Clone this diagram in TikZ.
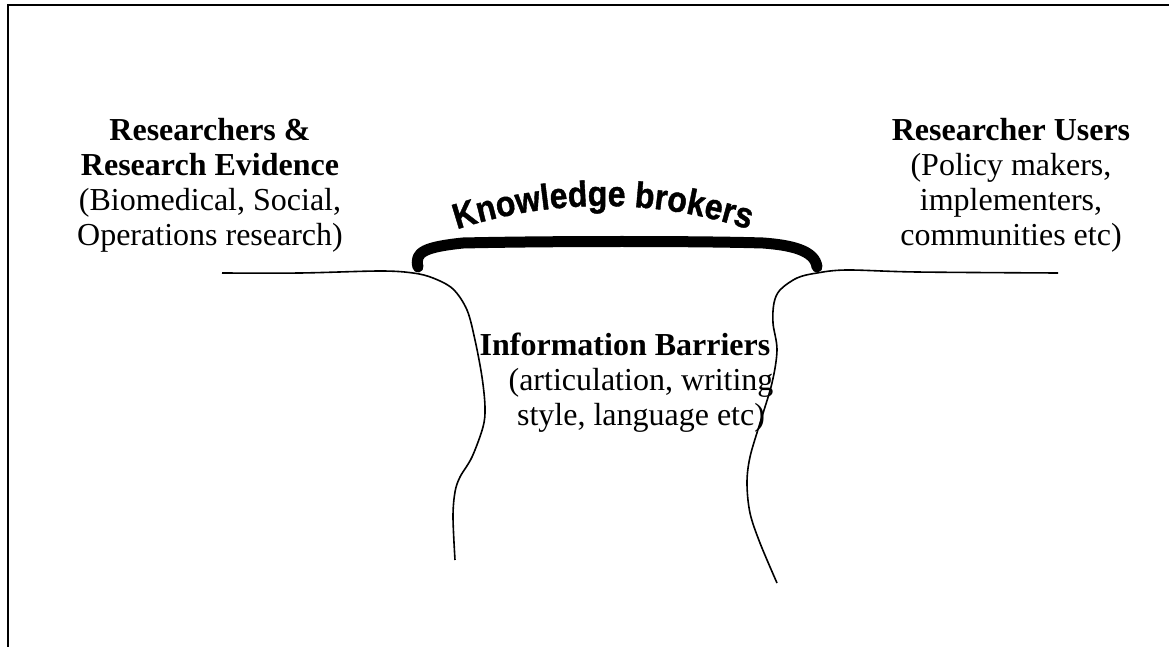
\documentclass[tikz,border=0pt]{standalone}
\usepackage{fontspec}
\setmainfont{Liberation Serif}
\newfontfamily\kbfont{Liberation Sans}[FakeBold=1.2]
\usetikzlibrary{decorations.text}
\tikzset{
  frameline/.style={line width=1pt},
  ground/.style={line width=0.8pt},
  bridge/.style={line width=5.5pt, line cap=round, line join=round},
  lbl/.style={anchor=base, inner sep=0pt, font=\fontsize{16}{17.5}\selectfont},
  blbl/.style={lbl, font=\fontsize{16}{17.5}\selectfont\bfseries}
}
\begin{document}
\begin{tikzpicture}[x=0.5pt, y=0.5pt]
\useasboundingbox (0,0) rectangle (1169,-647);
% frame
\draw[frameline] (1169,-5) -- (8,-5) -- (8,-647);
% left text
\node[blbl] (l1) at (210,-141) {Researchers \&};
\node[blbl] (l2) at (210,-176) {Research Evidence};
\node[lbl]  (l3) at (210,-211) {(Biomedical, Social,};
\node[lbl]  (l4) at (210,-246) {Operations research)};
% right text
\node[blbl] (r1) at (1011,-141) {Researcher Users};
\node[lbl]  (r2) at (1011,-176) {(Policy makers,};
\node[lbl]  (r3) at (1011,-211) {implementers,};
\node[lbl]  (r4) at (1011,-246) {communities etc)};
% barrier text
\node[blbl] (b1) at (625,-356) {Information Barriers};
\node[lbl]  (b2) at (641,-390) {(articulation, writing};
\node[lbl]  (b3) at (641,-425) {style, language etc)};
% left ground and cliff
\draw[ground] plot[smooth, tension=0.55] coordinates {
  (222,-273) (300,-273) (380,-271) (413,-273) (433,-278) (453,-289)
  (467,-310) (475,-340) (482,-377) (485,-407) (483,-427) (472,-457)
  (460,-477) (455,-492) (453,-517) (455,-560)};
% right ground and cliff
\draw[ground] plot[smooth, tension=0.55] coordinates {
  (1058,-273) (917,-272) (847,-270) (817,-273) (797,-278) (780,-290)
  (774,-303) (773,-323) (777,-350) (772,-383) (760,-423) (750,-457)
  (747,-483) (750,-513) (760,-543) (777,-583)};
% bridge
\draw[bridge] (418,-267) .. controls (414,-252) and (425,-247) .. (463,-243)
  .. controls (550,-241) and (700,-241) .. (763,-243)
  .. controls (790,-245) and (815,-250) .. (817,-267);
% arched label
\path[decorate, decoration={text along path,
    text={|\kbfont\bfseries\fontsize{16}{16}\selectfont|Knowledge brokers},
    text align=center, transform={yscale=1.12}}]
  ([shift={(115:233pt)}]603,-672) arc[start angle=115, end angle=65, radius=233pt];
\end{tikzpicture}
\end{document}
